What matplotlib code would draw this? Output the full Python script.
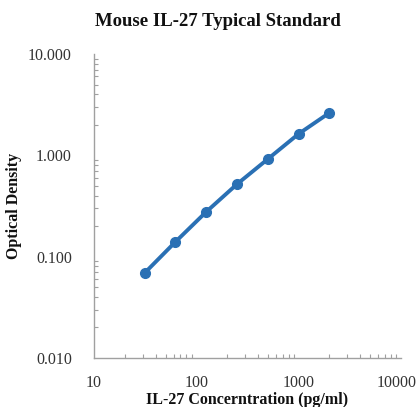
import numpy as np
import matplotlib
matplotlib.use('Agg')
import matplotlib.pyplot as plt
import matplotlib.transforms as mtransforms
from matplotlib.ticker import FixedLocator, LogLocator, NullFormatter

# standard curve data
conc = [31.25, 62.5, 125, 250, 500, 1000, 2000]
od = [0.069, 0.14, 0.277, 0.52, 0.92, 1.63, 2.63]

x_ticks = [10, 100, 1000, 10000]
x_labels = ['10', '100', '1000', '10000']
y_ticks = [0.01, 0.1, 1, 10]
y_labels = ['0.010', '0.100', '1.000', '10.000']

plt.rcParams['font.family'] = ['Liberation Serif', 'DejaVu Serif']
blue = '#2a70b4'
grey = '#a0a0a0'

fig = plt.figure(figsize=(4.19, 4.07), dpi=100)
ax = fig.add_axes([94/419, 1 - 358/407, (401-94)/419, (358-54)/407])

ax.plot(conc, od, '-', color=blue, lw=2.8, solid_capstyle='round', zorder=2)
ax.plot(conc, od, 'o', color=blue, ms=7, zorder=3)

ax.set_xscale('log')
ax.set_yscale('log')
ax.set_xlim(10, 10000)
ax.set_ylim(0.01, 10)

ax.xaxis.set_major_locator(FixedLocator(x_ticks))
ax.set_xticklabels(x_labels)
ax.yaxis.set_major_locator(FixedLocator(y_ticks))
ax.set_yticklabels(y_labels)
ax.xaxis.set_minor_locator(LogLocator(base=10, subs=np.arange(2, 10)))
ax.yaxis.set_minor_locator(LogLocator(base=10, subs=np.arange(2, 10)))
ax.xaxis.set_minor_formatter(NullFormatter())
ax.yaxis.set_minor_formatter(NullFormatter())

for s in ['top', 'right']:
    ax.spines[s].set_visible(False)
for s in ['left', 'bottom']:
    ax.spines[s].set_color(grey)
    ax.spines[s].set_linewidth(1.0)

ax.tick_params(which='both', direction='in', color=grey, width=0.8, labelsize=11.5, labelcolor='#333333')
ax.tick_params(which='major', length=0)
ax.tick_params(which='minor', length=3)
ax.tick_params(axis='x', pad=12)
ax.tick_params(axis='y', pad=16)

# keep the last x label inside the picture
lab = ax.get_xticklabels()[-1]
lab.set_transform(lab.get_transform() + mtransforms.ScaledTranslation(-4/100, 0, fig.dpi_scale_trans))

fig.text(218/419, 1 - 22/407, 'Mouse IL-27 Typical Standard', fontsize=13.5, fontweight='bold',
         ha='center', va='center', color='#111111')
ax.set_xlabel('IL-27 Concerntration (pg/ml)', fontsize=11.5, fontweight='bold', labelpad=1, color='#111111')
ax.set_ylabel('Optical Density', fontsize=11.5, fontweight='bold', labelpad=4, color='#111111')

fig.savefig('out.png', dpi=100)
